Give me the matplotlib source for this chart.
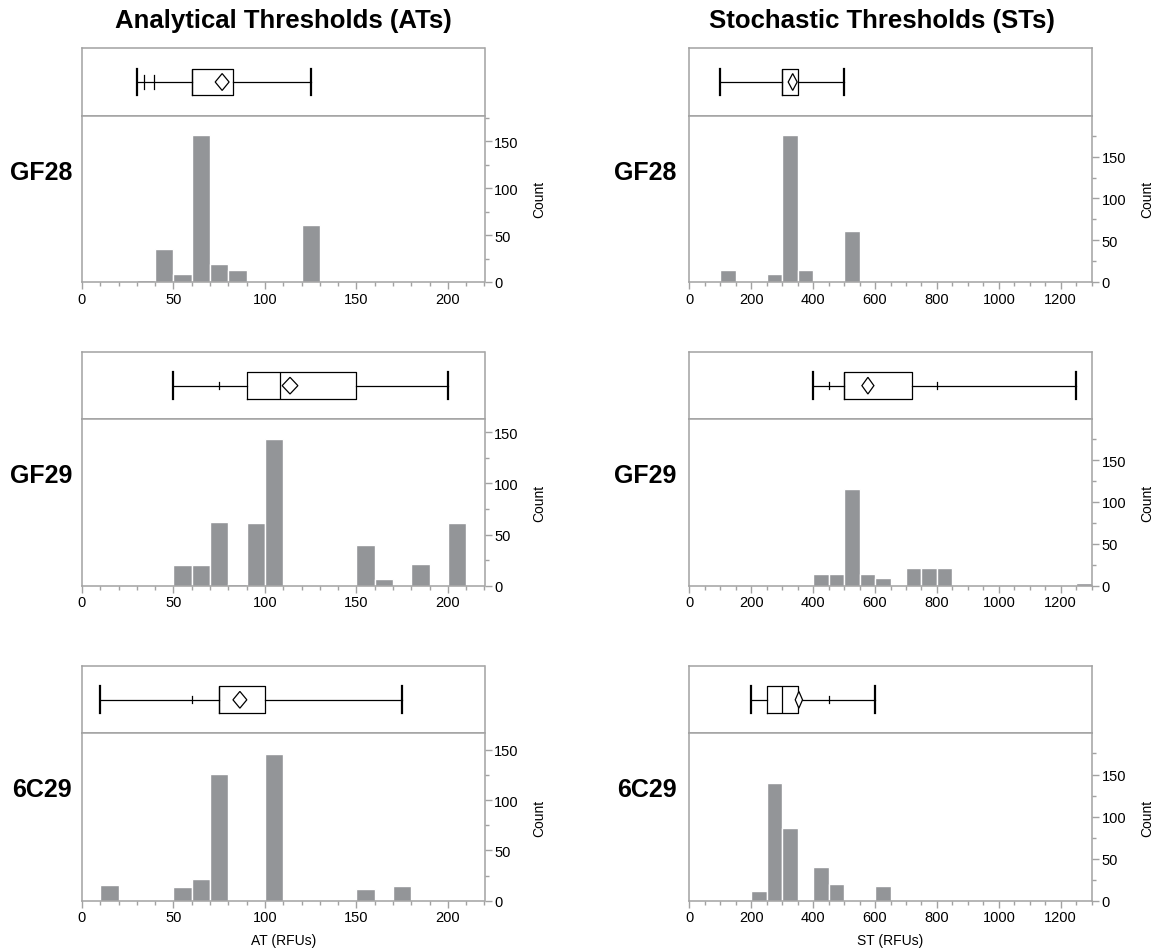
import matplotlib
matplotlib.use("Agg")
import matplotlib.pyplot as plt
from matplotlib.ticker import MultipleLocator

plt.rcParams['font.family'] = ['Liberation Sans', 'DejaVu Sans']

# ---- data ----
rows = ["GF28", "GF29", "6C29"]

# AT histograms (bin width 10)
at_bins = [
    [30, 40, 50, 60, 70, 80, 120],
    [50, 60, 70, 80, 90, 100, 150, 160, 180, 200],
    [10, 50, 60, 70, 100, 150, 170],
]
at_counts = [
    [2, 35, 8, 156, 19, 13, 61],
    [20, 20, 62, 2, 61, 143, 40, 7, 21, 61],
    [16, 14, 22, 126, 146, 12, 15],
]
# ST histograms (bin width 50)
st_bins = [
    [100, 250, 300, 350, 500],
    [400, 450, 500, 550, 600, 700, 750, 800, 1250],
    [200, 250, 300, 400, 450, 600],
]
st_counts = [
    [14, 10, 176, 14, 61],
    [14, 14, 115, 14, 9, 21, 21, 21, 3],
    [12, 140, 86, 40, 20, 17],
]

# box plot summaries: whisker low, q1, median, q3, whisker high
at_box = [
    [30, 60, 60, 82.5, 125],
    [50, 90, 108, 150, 200],
    [10, 75, 75, 100, 175],
]
at_mean = [76.6, 113.7, 86.3]
at_ci = [3.8, 4.3, 3.8]
at_ticks = [[34, 39.5], [75], [60]]

st_box = [
    [100, 300, 300, 350, 500],
    [400, 500, 500, 720, 1250],
    [200, 250, 300, 350, 600],
]
st_mean = [334, 577, 354]
st_ci = [14.5, 19.4, 11.8]
st_ticks = [[], [450, 800], [450]]

at_ylim = [177, 163, 166.6]
st_ylim = [199, 199, 199]

# ---- layout (pixels) ----
W, H = 1159, 953
fig = plt.figure(figsize=(W / 100, H / 100), dpi=100)
cols = [(82, 484.5), (689.3, 1091.7)]
row_px = [(49.3, 116.7, 283), (353.3, 420, 586.7), (667.3, 734.3, 901.7)]
GRAY = "#a2a2a2"
BAR = "#939598"


def add_ax(x0, x1, yt, yb):
    return fig.add_axes([x0 / W, 1 - yb / H, (x1 - x0) / W, (yb - yt) / H])


def style_frame(ax):
    for s in ax.spines.values():
        s.set_color(GRAY)
        s.set_linewidth(1.1)


def draw_box(ax, stats, mean, ci, ticks, tick_h, xmax):
    lo, q1, med, q3, hi = stats
    ax.bxp([dict(whislo=lo, q1=q1, med=med, q3=q3, whishi=hi, fliers=[])],
           positions=[0], widths=0.4, capwidths=[0.4], orientation='horizontal',
           showfliers=False,
           boxprops=dict(color='black', linewidth=0.9),
           whiskerprops=dict(color='black', linewidth=0.9),
           capprops=dict(color='black', linewidth=1.6),
           medianprops=dict(color='black', linewidth=0.9))
    for t in ticks:
        ax.plot([t, t], [-tick_h, tick_h], color='black', lw=0.9)
    ax.fill([mean - ci, mean, mean + ci, mean], [0, 0.125, 0, -0.125],
            facecolor='white', edgecolor='black', lw=0.9, zorder=5)
    ax.set_xlim(0, xmax)
    ax.set_ylim(-0.5, 0.5)
    ax.set_xticks([])
    ax.set_yticks([])
    style_frame(ax)


def draw_hist(ax, lefts, counts, width, xmax, ymax, major, minor):
    ax.bar(lefts, counts, width=width, align='edge', color=BAR,
           edgecolor='white', linewidth=1.0)
    ax.set_xlim(0, xmax)
    ax.set_ylim(0, ymax)
    ax.xaxis.set_major_locator(MultipleLocator(major))
    ax.xaxis.set_minor_locator(MultipleLocator(minor))
    ax.yaxis.set_major_locator(MultipleLocator(50))
    ax.yaxis.set_minor_locator(MultipleLocator(25))
    ax.yaxis.tick_right()
    ax.yaxis.set_label_position('right')
    ax.set_ylabel("Count", fontsize=10, labelpad=10)
    ax.tick_params(which='major', length=5, width=1.0, color=GRAY,
                   labelsize=10.5, pad=2)
    ax.tick_params(which='minor', length=3, width=1.0, color=GRAY)
    style_frame(ax)


for i, (yt, ys, yb) in enumerate(row_px):
    # analytical thresholds
    x0, x1 = cols[0]
    axb = add_ax(x0, x1, yt, ys)
    draw_box(axb, at_box[i], at_mean[i], at_ci[i], at_ticks[i],
             0.11 if i == 0 else 0.05, 220)
    axh = add_ax(x0, x1, ys, yb)
    draw_hist(axh, at_bins[i], at_counts[i], 10, 220, at_ylim[i], 50, 10)
    if i == 2:
        axh.set_xlabel("AT (RFUs)", fontsize=10, labelpad=6)
    fig.text((x0 - 10) / W, 1 - (ys + 56) / H, rows[i], ha='right',
             va='center', fontsize=18, fontweight='bold')

    # stochastic thresholds
    x0, x1 = cols[1]
    axb = add_ax(x0, x1, yt, ys)
    draw_box(axb, st_box[i], st_mean[i], st_ci[i], st_ticks[i], 0.05, 1300)
    axh = add_ax(x0, x1, ys, yb)
    draw_hist(axh, st_bins[i], st_counts[i], 50, 1300, st_ylim[i], 200, 50)
    if i == 2:
        axh.set_xlabel("ST (RFUs)", fontsize=10, labelpad=6)
    fig.text((x0 - 13) / W, 1 - (ys + 56) / H, rows[i], ha='right',
             va='center', fontsize=18, fontweight='bold')

fig.text(283 / W, 1 - 21 / H, "Analytical Thresholds (ATs)", ha='center',
         va='center', fontsize=18.5, fontweight='bold')
fig.text(882 / W, 1 - 21 / H, "Stochastic Thresholds (STs)", ha='center',
         va='center', fontsize=18.5, fontweight='bold')

fig.savefig("out.png", dpi=100)
